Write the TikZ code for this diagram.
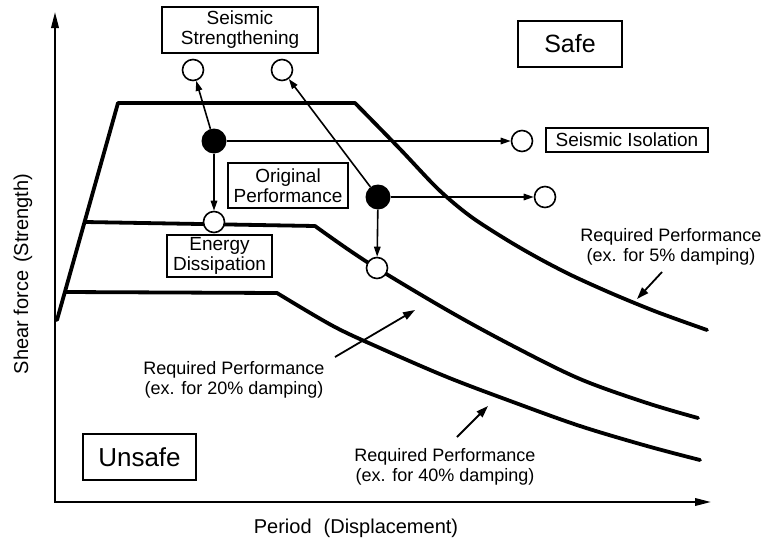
\documentclass[tikz,border=0pt]{standalone}
\usepackage{fontspec}
\setmainfont{Liberation Sans}
\usetikzlibrary{arrows.meta}
\begin{document}
\begin{tikzpicture}[x=1pt,y=-1pt,
  curve/.style={line width=3.8pt, line join=round, line cap=round},
  conn/.style={line width=1.6pt, -{Triangle[length=10pt,width=6.5pt]}},
  ptr/.style={line width=1.8pt, -{Triangle[length=12pt,width=8pt]}},
  axisline/.style={line width=2pt, {Triangle[length=16pt,width=7.5pt]}-{Triangle[length=16pt,width=7.5pt]}},
  hol/.style={circle, draw, line width=1.6pt, fill=white, minimum size=21pt, inner sep=0pt},
  fil/.style={circle, fill=black, minimum size=25pt, inner sep=0pt},
  lbox/.style={draw, line width=1.5pt, inner sep=0pt, align=center, font=\fontsize{19}{20}\selectfont},
  req/.style={inner sep=0pt, align=center, font=\fontsize{18}{20}\selectfont},
  axlab/.style={inner sep=0pt, font=\fontsize{20}{22}\selectfont},
]
\useasboundingbox (0,0) rectangle (766,541);

% axes
\coordinate (O) at (55,502);
\coordinate (ytip) at (55,12);
\coordinate (xtip) at (711,502);
\draw[axisline] (ytip) -- (O) -- (xtip);

% required performance curves
\draw[curve] (57,320) -- (118,103) -- (355,103) -- plot[smooth, tension=0.5] coordinates {(355,103) (400,149) (438,189) (470,216) (507,240) (540,259) (573,276) (613,294) (657,312) (707,330)};
\draw[curve] (85,222) -- (315,226) -- plot[smooth, tension=0.55] coordinates {(315,226) (367,262) (447,310) (513,346) (580,379) (647,403) (698,418)};
\draw[curve] (65,292) -- (277,293) -- plot[smooth, tension=0.55] coordinates {(277,293) (333,326) (380,348) (447,377) (513,402) (580,426) (647,446) (700,460)};

% boxed labels
\node[lbox, minimum width=156pt, minimum height=46pt] (ss) at (240,30) {Seismic\\Strengthening};
\node[lbox, minimum width=104pt, minimum height=46pt, font=\fontsize{25}{28}\selectfont] (safe) at (570,44) {Safe};
\node[lbox, minimum width=162pt, minimum height=24pt] (si) at (627,140) {Seismic Isolation};
\node[lbox, minimum width=120pt, minimum height=45pt] (op) at (288,185.5) {Original\\Performance};
\node[lbox, minimum width=105pt, minimum height=42pt] (ed) at (219.5,256) {Energy\\Dissipation};
\node[lbox, minimum width=113pt, minimum height=46pt, font=\fontsize{26}{28}\selectfont] (unsafe) at (139.5,457) {Unsafe};

% performance points
\node[hol] (s1) at (193,70) {};
\node[hol] (s2) at (282,70) {};
\node[fil] (f1) at (214,141) {};
\node[fil] (f2) at (378,197) {};
\node[hol] (e1) at (214,222) {};
\node[hol] (e2) at (377,268) {};
\node[hol] (i1) at (522,141) {};
\node[hol] (i2) at (545,197) {};

\draw[conn] (f1) -- (s1);
\draw[conn] (f1) -- (e1);
\draw[conn] (f1) -- (i1);
\draw[conn] (f2) -- (s2);
\draw[conn] (f2) -- (e2);
\draw[conn] (f2) -- (i2);

% required performance labels
\node[req] (r5) at (671,247) {Required Performance\\(ex. for 5\% damping)};
\node[req] (r20) at (234,380) {Required Performance\\(ex. for 20\% damping)};
\node[req] (r40) at (445,467) {Required Performance\\(ex. for 40\% damping)};

\coordinate (p5a) at (662,272);
\coordinate (p5b) at (637,299);
\coordinate (p20a) at (335,357);
\coordinate (p20b) at (415,310);
\coordinate (p40a) at (457,437);
\coordinate (p40b) at (488,406);
\draw[ptr] (p5a) -- (p5b);
\draw[ptr] (p20a) -- (p20b);
\draw[ptr] (p40a) -- (p40b);

% axis labels
\node[axlab] (xl) at (356,528) {Period\hspace{0.6em}(Displacement)};
\node[axlab, rotate=90] (yl) at (23,274) {Shear force\hspace{0.4em}(Strength)};
\end{tikzpicture}
\end{document}
